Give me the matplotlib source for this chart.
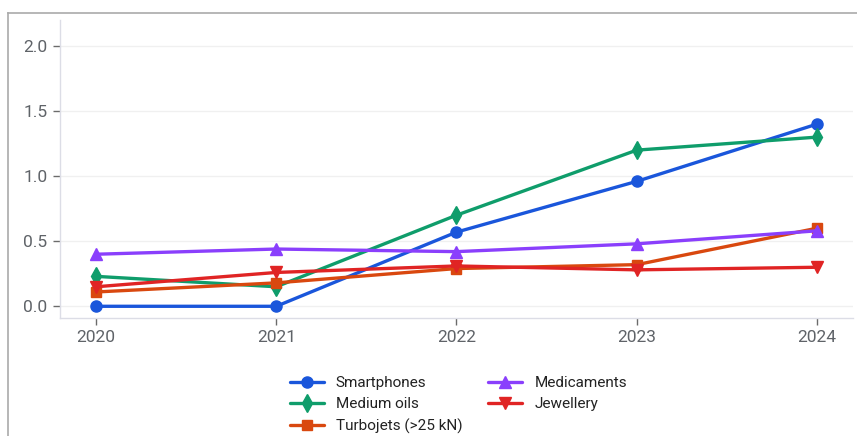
import matplotlib
matplotlib.use("Agg")
import matplotlib.pyplot as plt
from matplotlib.lines import Line2D

plt.rcParams['font.family'] = ['Roboto', 'DejaVu Sans']

years = [2020, 2021, 2022, 2023, 2024]
smartphones = [0.0, 0.0, 0.57, 0.96, 1.40]
medium_oils = [0.23, 0.15, 0.70, 1.20, 1.30]
turbojets = [0.11, 0.18, 0.29, 0.32, 0.60]
medicaments = [0.40, 0.44, 0.42, 0.48, 0.58]
jewellery = [0.15, 0.26, 0.31, 0.28, 0.30]
y_ticks = [0.0, 0.5, 1.0, 1.5, 2.0]

series = [
    ("Smartphones", smartphones, "#1a56db", "o", 8),
    ("Medium oils", medium_oils, "#0f9d6b", "d", 9),
    ("Turbojets (>25 kN)", turbojets, "#d9480f", "s", 7.5),
    ("Medicaments", medicaments, "#8a3ffc", "^", 8.5),
    ("Jewellery", jewellery, "#e02424", "v", 8.5),
]

W, H = 857, 436
fig = plt.figure(figsize=(W / 100, H / 100), dpi=100)
ax = fig.add_axes([60 / W, 1 - 318 / H, (853 - 60) / W, (318 - 20) / H])

for name, vals, color, marker, ms in series:
    ax.plot(years, vals, color=color, marker=marker, markersize=ms,
            linewidth=2.4, label=name, solid_capstyle='round')

ax.set_xlim(2019.8, 2024.2)
ax.set_ylim(-0.09, 2.2)
ax.set_xticks(years)
ax.set_xticklabels([str(y) for y in years])
ax.set_yticks(y_ticks)
ax.set_yticklabels([f"{v:.1f}" for v in y_ticks])
ax.grid(axis='y', color='#f0f0f0', linewidth=1)
ax.set_axisbelow(True)

for s in ['top', 'right']:
    ax.spines[s].set_visible(False)
for s in ['left', 'bottom']:
    ax.spines[s].set_color('#dcdde6')
    ax.spines[s].set_linewidth(1)

ax.tick_params(axis='both', labelcolor='#5f6368', labelsize=12.5, length=5,
               width=1, pad=4, color='#6b6b6b')

leg = fig.legend(loc='upper center', bbox_to_anchor=(0.535, 1 - 376 / H),
                 ncol=2, frameon=False, fontsize=11, handlelength=2.2,
                 handletextpad=0.8, columnspacing=1.7, labelspacing=0.47,
                 borderaxespad=0, borderpad=0)
for t in leg.get_texts():
    t.set_color('#222222')

# outer frame lines
fig.add_artist(Line2D([8 / W, 1], [1 - 13 / H, 1 - 13 / H], color='#aaaaaa',
                      linewidth=1.2, transform=fig.transFigure))
fig.add_artist(Line2D([8 / W, 8 / W], [0, 1 - 13 / H], color='#aaaaaa',
                      linewidth=1.2, transform=fig.transFigure))

fig.savefig("out.png", dpi=100, facecolor='white')
